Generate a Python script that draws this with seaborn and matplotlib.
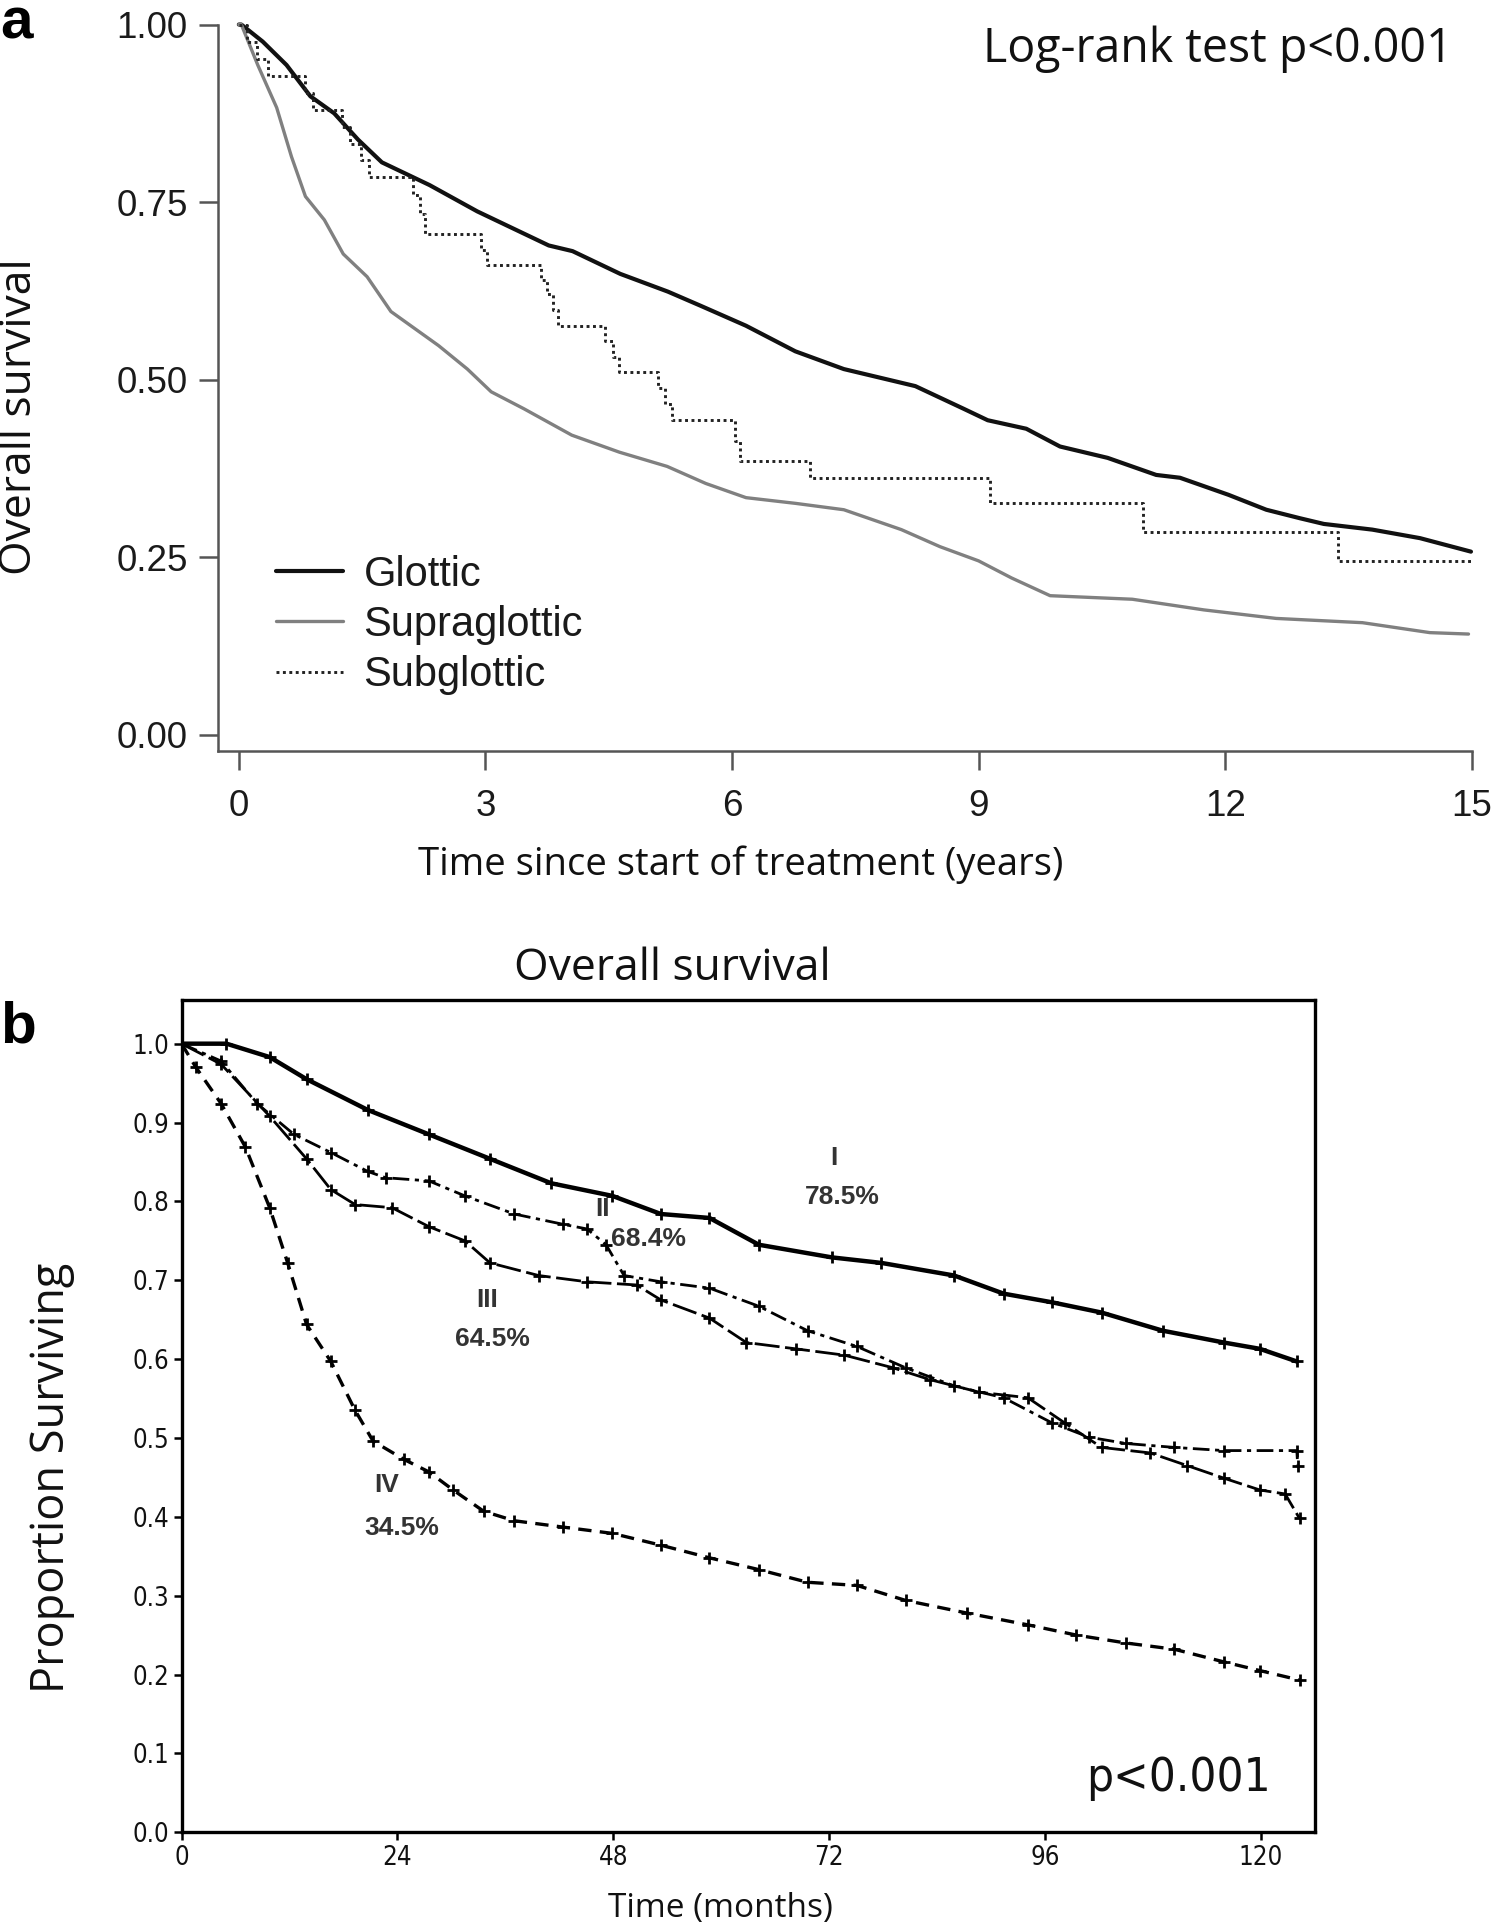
import numpy as np
import pandas as pd
import matplotlib
matplotlib.use("Agg")
import matplotlib.pyplot as plt
import seaborn as sns

# ---------------- Panel a data (years, survival) ----------------
glottic_t = [0.0, 0.03, 0.29, 0.58, 0.87, 1.16, 1.45, 1.74, 2.03, 2.32, 2.90, 3.48, 3.77, 4.06,
             4.64, 5.22, 5.62, 6.17, 6.77, 7.36, 7.94, 8.23, 8.82, 9.11, 9.58, 9.99, 10.57,
             11.16, 11.45, 12.04, 12.50, 12.91, 13.20, 13.79, 14.37, 14.99]
glottic_s = [1.0, 1.0, 0.976, 0.943, 0.899, 0.875, 0.838, 0.806, 0.790, 0.774, 0.737, 0.705,
             0.689, 0.681, 0.649, 0.624, 0.604, 0.576, 0.540, 0.515, 0.499, 0.491, 0.459,
             0.443, 0.431, 0.406, 0.390, 0.366, 0.362, 0.338, 0.317, 0.305, 0.297, 0.289,
             0.277, 0.258]

supra_t = [0.0, 0.03, 0.23, 0.46, 0.64, 0.81, 1.04, 1.27, 1.56, 1.85, 2.14, 2.43, 2.78, 3.07,
           3.47, 4.05, 4.63, 5.21, 5.68, 6.17, 6.77, 7.36, 8.06, 8.53, 9.00, 9.40, 9.87,
           10.87, 11.74, 12.62, 13.67, 14.49, 14.96]
supra_s = [1.0, 1.0, 0.943, 0.883, 0.814, 0.758, 0.725, 0.677, 0.645, 0.596, 0.572, 0.548,
           0.515, 0.483, 0.459, 0.422, 0.398, 0.378, 0.354, 0.334, 0.326, 0.317, 0.289,
           0.265, 0.245, 0.221, 0.196, 0.191, 0.176, 0.164, 0.158, 0.144, 0.142]

sub_t = [0.0, 0.10, 0.22, 0.35, 0.80, 0.90, 1.25, 1.35, 1.48, 1.58, 2.12, 2.20, 2.27, 2.95,
         3.02, 3.68, 3.75, 3.82, 3.88, 4.46, 4.55, 4.63, 5.10, 5.18, 5.27, 6.03, 6.10, 6.95,
         9.14, 11.0, 13.37, 15.0]
sub_s = [1.0, 0.976, 0.952, 0.928, 0.904, 0.880, 0.856, 0.832, 0.810, 0.786, 0.760, 0.733,
         0.705, 0.683, 0.661, 0.640, 0.620, 0.598, 0.576, 0.554, 0.532, 0.511, 0.488, 0.466,
         0.443, 0.414, 0.386, 0.362, 0.327, 0.285, 0.245, 0.245]

groups_a = ["Glottic", "Supraglottic", "Subglottic"]
yticks_a = [0.00, 0.25, 0.50, 0.75, 1.00]
xticks_a = [0, 3, 6, 9, 12, 15]

# ---------------- Panel b data (months, proportion) ----------------
s1_t = [0, 5, 9.8, 13.9, 20.7, 27.5, 34.3, 41.1, 47.9, 53.3, 58.7, 64.2, 72.3, 77.8, 85.9,
        91.4, 96.8, 102.3, 109.1, 115.9, 119.9, 124.0]
s1_s = [1.0, 1.0, 0.983, 0.955, 0.916, 0.885, 0.854, 0.823, 0.807, 0.784, 0.779, 0.745,
        0.729, 0.722, 0.706, 0.683, 0.672, 0.659, 0.636, 0.621, 0.613, 0.597]

s2_t = [0, 4.4, 8.4, 12.5, 16.6, 20.7, 22.7, 27.5, 31.5, 37.0, 42.4, 45.1, 47.2, 49.2, 53.3,
        58.7, 64.2, 69.6, 75.1, 80.5, 85.9, 91.4, 96.8, 100.9, 105.0, 110.4, 115.9, 124.0, 124.1]
s2_s = [1.0, 0.978, 0.924, 0.885, 0.862, 0.838, 0.830, 0.826, 0.807, 0.784, 0.771, 0.765,
        0.745, 0.706, 0.698, 0.690, 0.667, 0.636, 0.616, 0.589, 0.566, 0.551, 0.519, 0.501,
        0.493, 0.488, 0.484, 0.484, 0.465]

s3_t = [0, 4.4, 9.8, 13.9, 16.6, 19.3, 23.4, 27.5, 31.5, 34.3, 39.7, 45.1, 50.6, 53.3, 58.7,
        62.8, 68.3, 73.7, 79.1, 83.2, 88.7, 94.1, 98.2, 102.3, 107.7, 111.8, 115.9, 119.9,
        122.7, 124.3]
s3_s = [1.0, 0.974, 0.908, 0.854, 0.815, 0.796, 0.792, 0.768, 0.750, 0.722, 0.706, 0.698,
        0.694, 0.675, 0.652, 0.621, 0.613, 0.605, 0.589, 0.574, 0.558, 0.551, 0.519, 0.488,
        0.481, 0.465, 0.449, 0.434, 0.429, 0.398]

s4_t = [0, 1.6, 4.4, 7.1, 9.8, 11.8, 13.9, 16.6, 19.3, 21.3, 24.7, 27.5, 30.2, 33.6, 37.0,
        42.4, 47.9, 53.3, 58.7, 64.2, 69.6, 75.1, 80.5, 87.3, 94.1, 99.5, 105.0, 110.4,
        115.9, 119.9, 124.3]
s4_s = [1.0, 0.970, 0.924, 0.869, 0.792, 0.722, 0.644, 0.597, 0.535, 0.496, 0.473, 0.457,
        0.434, 0.407, 0.395, 0.387, 0.379, 0.364, 0.348, 0.333, 0.317, 0.313, 0.294, 0.278,
        0.263, 0.250, 0.240, 0.232, 0.216, 0.205, 0.193]

stages = ["I", "II", "III", "IV"]
stage_pct = ["78.5%", "68.4%", "64.5%", "34.5%"]
yticks_b = [0.0, 0.1, 0.2, 0.3, 0.4, 0.5, 0.6, 0.7, 0.8, 0.9, 1.0]
xticks_b = [0, 24, 48, 72, 96, 120]

# ---------------- Style ----------------
sns.set_theme(style="ticks")
plt.rcParams["font.family"] = ["Liberation Sans", "DejaVu Sans"]
LABEL_FONT = ["Open Sans", "DejaVu Sans"]
NARROW_FONT = ["Liberation Sans Narrow", "DejaVu Sans"]

fig = plt.figure(figsize=(15, 19.23), dpi=100)
W, H = 1223.0, 1568.0

def fx(x):
    return x / W

def fy(y):
    return 1 - y / H

# ---------------- Panel a ----------------
axa = fig.add_axes([fx(178), fy(612), fx(1200) - fx(178), fy(20) - fy(612)])
df_a = pd.concat([
    pd.DataFrame({"t": glottic_t, "s": glottic_s, "g": "Glottic"}),
    pd.DataFrame({"t": supra_t, "s": supra_s, "g": "Supraglottic"}),
])
sns.lineplot(data=df_a[df_a.g == "Glottic"], x="t", y="s", ax=axa, color="#111111",
             lw=3.0, estimator=None, sort=False, label="Glottic", clip_on=False)
sns.lineplot(data=df_a[df_a.g == "Supraglottic"], x="t", y="s", ax=axa, color="#808080",
             lw=2.4, estimator=None, sort=False, label="Supraglottic", clip_on=False)
df_sub = pd.DataFrame({"t": sub_t, "s": sub_s})
sns.lineplot(data=df_sub, x="t", y="s", ax=axa, color="#222222", lw=2.1,
             estimator=None, sort=False, drawstyle="steps-post", linestyle=(0, (1, 1.2)),
             label="Subglottic", clip_on=False)

axa.set_xlim(-0.25, 15)
axa.set_ylim(-0.022, 1.0)
axa.set_xticks(xticks_a)
axa.set_xticklabels([str(v) for v in xticks_a])
axa.set_yticks(yticks_a)
axa.set_yticklabels([f"{v:.2f}" for v in yticks_a])
for side in ["top", "right"]:
    axa.spines[side].set_visible(False)
for side in ["left", "bottom"]:
    axa.spines[side].set_color("#555555")
    axa.spines[side].set_linewidth(1.8)
axa.tick_params(axis="both", direction="out", length=14, width=1.8, color="#555555",
                labelsize=26.5, labelcolor="#1a1a1a", pad=8)
axa.tick_params(axis="x", pad=14)
axa.set_xlabel("")
axa.set_ylabel("")
leg = axa.legend(loc="upper left", bbox_to_anchor=(0.046, 0.27), frameon=False,
                 fontsize=30, handlelength=1.6, handletextpad=0.5, labelspacing=0.25,
                 borderaxespad=0, borderpad=0)
for t in leg.get_texts():
    t.set_color("#1a1a1a")

fig.text(fx(16), fy(340), "Overall survival", rotation=90, ha="center", va="center",
         fontsize=32, family=LABEL_FONT, color="#111111")
fig.text(fx(604), fy(705), "Time since start of treatment (years)", ha="center",
         va="center", fontsize=27.5, family=LABEL_FONT, color="#111111")
fig.text(fx(993), fy(40), "Log-rank test p<0.001", ha="center", va="center",
         fontsize=33.5, family=LABEL_FONT, color="#111111")
fig.text(0.0, fy(19), "a", ha="left", va="center", fontsize=42, fontweight="bold",
         color="black")

# ---------------- Panel b ----------------
axb = fig.add_axes([fx(148), fy(1494), fx(1072) - fx(148), fy(815) - fy(1494)])
curves = [(s1_t, s1_s), (s2_t, s2_s), (s3_t, s3_s), (s4_t, s4_s)]
styles = ["-", (0, (6, 2, 1.5, 2)), (0, (9, 2)), (0, (4, 2.5))]
widths = [3.2, 2.0, 2.0, 2.4]
for (tt, ss), st, name, lw in zip(curves, styles, stages, widths):
    d = pd.DataFrame({"t": tt, "s": ss})
    sns.lineplot(data=d, x="t", y="s", ax=axb, color="black", lw=lw, linestyle=st,
                 estimator=None, sort=False, marker="+", markersize=9, mew=2.0,
                 markeredgecolor="black")

axb.set_xlim(0, 126)
axb.set_ylim(0, 1.056)
axb.set_xticks(xticks_b)
axb.set_xticklabels([str(v) for v in xticks_b])
axb.set_yticks(yticks_b)
axb.set_yticklabels([f"{v:.1f}" for v in yticks_b])
for side in ["top", "right", "left", "bottom"]:
    axb.spines[side].set_visible(True)
    axb.spines[side].set_color("black")
    axb.spines[side].set_linewidth(2.4)
axb.tick_params(axis="both", direction="out", length=6, width=1.8, color="black",
                labelsize=18.5, labelcolor="#111111", pad=3)
for lab in axb.get_xticklabels() + axb.get_yticklabels():
    lab.set_family(NARROW_FONT)
    lab.set_fontstretch("condensed")
axb.set_xlabel("")
axb.set_ylabel("")

stage_pos = [(72.5, 0.855, 73.5, 0.805), (46.8, 0.79, 51.9, 0.752),
             (34.0, 0.675, 34.6, 0.625), (22.8, 0.44, 24.5, 0.386)]
for name, pct, (x1, y1, x2, y2) in zip(stages, stage_pct, stage_pos):
    axb.text(x1, y1, name, ha="center", va="center", fontsize=19, fontweight="bold",
             color="#333333")
    axb.text(x2, y2, pct, ha="center", va="center", fontsize=19, fontweight="bold",
             color="#333333")

fig.text(fx(548), fy(790), "Overall survival", ha="center", va="center", fontsize=32,
         family=LABEL_FONT, color="#111111")
fig.text(fx(42), fy(1205), "Proportion Surviving", rotation=90, ha="center",
         va="center", fontsize=32.5, family=LABEL_FONT, color="#111111")
fig.text(fx(587), fy(1556), "Time (months)", ha="center", va="center", fontsize=24,
         family=LABEL_FONT, color="#111111")
fig.text(fx(961), fy(1450), "p<0.001", ha="center", va="center", fontsize=34,
         family=NARROW_FONT, fontstretch="condensed", color="#111111")
fig.text(0.0, fy(838), "b", ha="left", va="center", fontsize=42, fontweight="bold",
         color="black")

fig.savefig("out.png", dpi=100)
